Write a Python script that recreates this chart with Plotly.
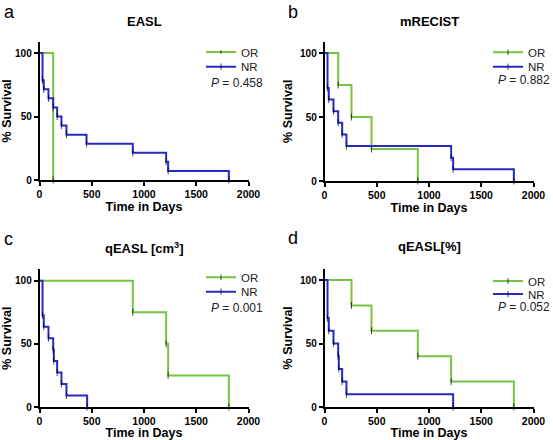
import plotly.graph_objects as go

W, H = 553, 440

# ---------------- data (Kaplan-Meier steps) ----------------
a_or_t = [0, 131]
a_or_s = [100, 0]
a_nr_t = [0, 29, 41, 86, 131, 169, 210, 258, 450, 893, 1212, 1231, 1812]
a_nr_s = [100, 78.6, 71.4, 64.3, 57.1, 50.0, 42.9, 35.7, 28.6, 21.4, 14.3, 7.1, 0]

b_or_t = [0, 131, 258, 450, 893]
b_or_s = [100, 75, 50, 25, 0]
b_nr_t = [0, 29, 41, 86, 131, 169, 210, 1212, 1231, 1812]
b_nr_s = [100, 72.7, 63.6, 54.5, 45.5, 36.4, 27.3, 18.2, 9.1, 0]

c_or_t = [0, 893, 1212, 1231, 1812]
c_or_s = [100, 75, 50, 25, 0]
c_nr_t = [0, 29, 41, 86, 131, 137, 169, 210, 258, 456]
c_nr_s = [100, 72.7, 63.6, 54.5, 45.5, 36.4, 27.3, 18.2, 9.1, 0]

d_or_t = [0, 258, 450, 893, 1212, 1812]
d_or_s = [100, 80, 60, 40, 20, 0]
d_nr_t = [0, 29, 41, 86, 131, 137, 169, 210, 1231]
d_nr_s = [100, 70, 60, 50, 40, 30, 20, 10, 0]

titles = ["EASL", "mRECIST", "qEASL [cm<sup>3</sup>]", "qEASL[%]"]
letters = ["a", "b", "c", "d"]
pvals = ["0.458", "0.882", "0.001", "0.052"]
group_names = ["OR", "NR"]
x_ticks = [0, 500, 1000, 1500, 2000]
y_ticks = [0, 50, 100]

GREEN = "rgb(118,196,66)"
BLUE = "rgb(40,40,196)"
FONT = "Liberation Sans, Arial, sans-serif"

# ---------------- layout geometry (pixels) ----------------
panels = [
    dict(x0=39.5, x1=248.5, y0=180, ytop=41.6, title_y=21.7, let=(2, 0),
         leg_x=201, leg_or=52, leg_nr=66.7, p_x=265, p_y=82.7,
         data=(a_or_t, a_or_s, a_nr_t, a_nr_s)),
    dict(x0=324.5, x1=533.5, y0=181, ytop=41.5, title_y=21.7, let=(286, 0),
         leg_x=488, leg_or=52.3, leg_nr=66.7, p_x=552, p_y=80,
         data=(b_or_t, b_or_s, b_nr_t, b_nr_s)),
    dict(x0=39.5, x1=248.5, y0=407, ytop=269.3, title_y=248.3, let=(2, 227),
         leg_x=201, leg_or=277.3, leg_nr=291.7, p_x=265, p_y=308.3,
         data=(c_or_t, c_or_s, c_nr_t, c_nr_s)),
    dict(x0=324.5, x1=533.5, y0=407, ytop=268.6, title_y=246.7, let=(286, 226),
         leg_x=488, leg_or=281, leg_nr=294, p_x=552, p_y=307.3,
         data=(d_or_t, d_or_s, d_nr_t, d_nr_s)),
]

def px(x):
    return x / W

def py(y):
    return 1 - y / H

fig = go.Figure()
annotations = []
layout = {}

for i, p in enumerate(panels):
    n = i + 1
    xa = "xaxis" if n == 1 else f"xaxis{n}"
    ya = "yaxis" if n == 1 else f"yaxis{n}"
    xr = "x" if n == 1 else f"x{n}"
    yr = "y" if n == 1 else f"y{n}"
    or_t, or_s, nr_t, nr_s = p["data"]
    leg_or = "legend" if n == 1 else f"legend{2 * n - 1}"
    leg_nr = f"legend{2 * n}"
    for (t, s, color, name, leg) in [(or_t, or_s, GREEN, group_names[0], leg_or),
                                      (nr_t, nr_s, BLUE, group_names[1], leg_nr)]:
        sizes = [0] + [5] * (len(t) - 1)
        fig.add_trace(go.Scatter(
            x=t, y=s, mode="lines+markers", name=name,
            line=dict(color=color, width=2, shape="hv"),
            marker=dict(symbol="line-ns", size=sizes, color="black",
                        line=dict(color="black", width=1)),
            xaxis=xr, yaxis=yr, legend=leg, cliponaxis=False,
            hoverinfo="x+y+name"))
    for leg, yy in [(leg_or, p["leg_or"]), (leg_nr, p["leg_nr"])]:
        layout[leg] = dict(x=px(p["leg_x"]), y=py(yy), xanchor="left",
                           yanchor="middle", bgcolor="rgba(0,0,0,0)",
                           borderwidth=0, font=dict(family=FONT, size=11.5, color="#222"),
                           itemclick=False, itemdoubleclick=False)
    ymax = 109
    layout[xa] = dict(
        domain=[px(p["x0"]), px(p["x1"])], range=[0, 2000], anchor=yr,
        tickvals=x_ticks, ticktext=[str(v) for v in x_ticks],
        showline=True, linecolor="black", linewidth=1.5,
        ticks="outside", ticklen=4, tickwidth=1.5, tickcolor="black",
        showgrid=False, zeroline=False,
        tickfont=dict(family=FONT, size=10.5, color="black", weight="bold"),
        title=dict(text="<b>Time in Days</b>", standoff=3,
                   font=dict(family=FONT, size=12.5, color="black")),
    )
    layout[ya] = dict(
        domain=[py(p["y0"]), py(p["ytop"])], range=[0, ymax], anchor=xr,
        tickvals=y_ticks, ticktext=[str(v) for v in y_ticks],
        showline=True, linecolor="black", linewidth=1.5,
        ticks="outside", ticklen=4, tickwidth=1.5, tickcolor="black",
        showgrid=False, zeroline=False,
        tickfont=dict(family=FONT, size=10, color="black", weight="bold"),
        title=dict(text="<b>% Survival</b>", standoff=5,
                   font=dict(family=FONT, size=12.5, color="black")),
    )
    annotations.append(dict(
        text=f"<b>{titles[i]}</b>", x=px((p["x0"] + p["x1"]) / 2), y=py(p["title_y"]),
        xref="paper", yref="paper", xanchor="center", yanchor="middle",
        showarrow=False, font=dict(family=FONT, size=13, color="black")))
    annotations.append(dict(
        text=letters[i], x=px(p["let"][0]), y=py(p["let"][1]),
        xref="paper", yref="paper", xanchor="left", yanchor="top",
        showarrow=False, font=dict(family=FONT, size=18, color="black")))
    annotations.append(dict(
        text=f"<i>P</i> = {pvals[i]}", x=px(p["p_x"]), y=py(p["p_y"]),
        xref="paper", yref="paper", xanchor="right", yanchor="middle",
        showarrow=False, font=dict(family=FONT, size=12, color="#222")))

fig.update_layout(
    width=W, height=H, margin=dict(l=0, r=0, t=0, b=0, autoexpand=False),
    paper_bgcolor="white", plot_bgcolor="white",
    annotations=annotations, showlegend=True,
    font=dict(family=FONT, color="black"),
    **layout)

fig.write_html("out.html",
               config={"displayModeBar": False},
               post_script="document.body.style.margin='0';document.body.style.overflow='hidden';")
